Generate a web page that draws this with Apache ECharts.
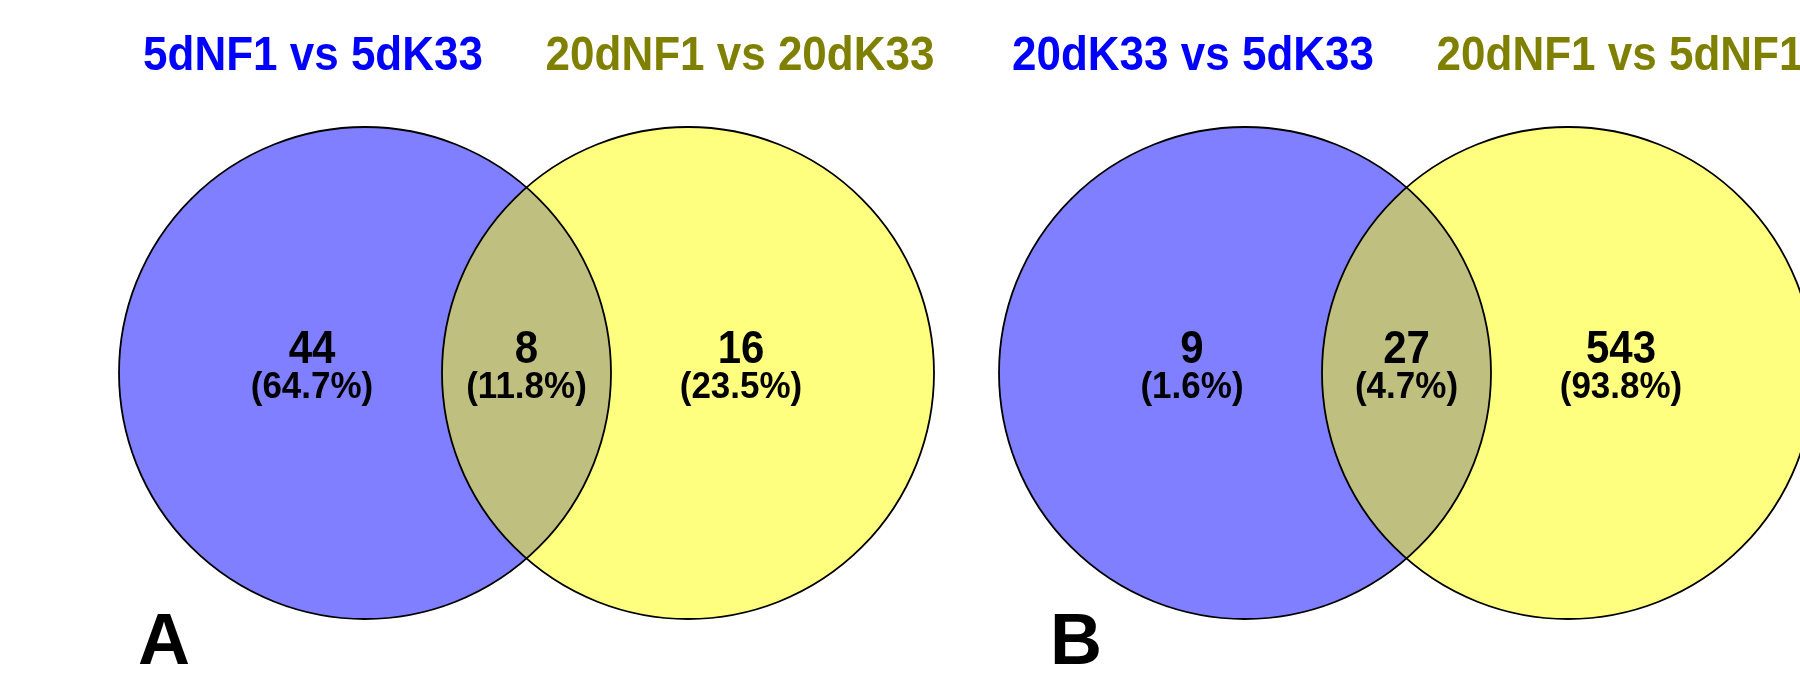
<!DOCTYPE html>
<html>
<head>
<meta charset="utf-8">
<script src="https://cdn.jsdelivr.net/npm/echarts@6/dist/echarts.min.js"></script>
<style>
  html, body { margin: 0; padding: 0; background: #ffffff; }
  #chart { width: 1800px; height: 677px; }
</style>
</head>
<body>
<div id="chart"></div>
<script>
// Two-set Venn diagrams of differentially expressed genes
const panelLetters    = ['A', 'B'];
const leftSetNames    = ['5dNF1 vs 5dK33', '20dK33 vs 5dK33'];
const rightSetNames   = ['20dNF1 vs 20dK33', '20dNF1 vs 5dNF1'];
const leftOnlyCounts  = [44, 9];
const overlapCounts   = [8, 27];
const rightOnlyCounts = [16, 543];

// Layout (pixel-like plane, y grows downward)
const PLANE_W = 1800, PLANE_H = 677;
const panelShift = [0, 880];
const letterX = [138, 1050];
const geom = { c1: 365, c2: 688, cy: 373, r: 246, labelOffset: 53, titleOffset: 52, titleY: 57 };
const setFill = ['rgba(0,0,255,0.5)', 'rgba(255,255,0,0.5)'];
const titleColor = ['#0000ff', '#808000'];
const FONT = '"Liberation Sans", Arial, Helvetica, sans-serif';

// circle records: [cx, cy, r, setIndex]
const circles = [];
panelShift.forEach(function (dx) {
  circles.push([dx + geom.c1, geom.cy, geom.r, 0]);
  circles.push([dx + geom.c2, geom.cy, geom.r, 1]);
});

// region label records: [x, y, panel, region]
const regionCounts = [leftOnlyCounts, overlapCounts, rightOnlyCounts];
const regions = [];
panelShift.forEach(function (dx, p) {
  const mid = dx + (geom.c1 + geom.c2) / 2;
  regions.push([dx + geom.c1 - geom.labelOffset, geom.cy, p, 0]);
  regions.push([mid, geom.cy, p, 1]);
  regions.push([dx + geom.c2 + geom.labelOffset, geom.cy, p, 2]);
});

// title records: [x, y, panel, side]
const titles = [];
panelShift.forEach(function (dx, p) {
  titles.push([dx + geom.c1 - geom.titleOffset, geom.titleY, p, 0]);
  titles.push([dx + geom.c2 + geom.titleOffset, geom.titleY, p, 1]);
});

// letter records: [x, y, panel]
const letters = panelLetters.map(function (l, p) { return [letterX[p], 644, p]; });

function panelTotal(p) {
  return leftOnlyCounts[p] + overlapCounts[p] + rightOnlyCounts[p];
}

// text placed at (x, y), stretched vertically about its anchor
function tallText(x, y, text, font, fill, align, sy) {
  return {
    type: 'text', x: x, y: y, scaleY: sy,
    style: { x: 0, y: 0, text: text, fill: fill, font: font, align: align, verticalAlign: 'middle' }
  };
}

const chart = echarts.init(document.getElementById('chart'), null, { renderer: 'canvas' });

chart.setOption({
  backgroundColor: '#ffffff',
  animation: false,
  grid: { left: 0, right: 0, top: 0, bottom: 0 },
  xAxis: { type: 'value', min: 0, max: PLANE_W, show: false },
  yAxis: { type: 'value', min: 0, max: PLANE_H, inverse: true, show: false },
  series: [
    {
      // translucent set fills
      type: 'custom', clip: false, silent: true, z: 1,
      data: circles,
      renderItem: function (params, api) {
        const c = api.coord([api.value(0), api.value(1)]);
        const rr = api.size([api.value(2), 0])[0];
        return {
          type: 'circle',
          shape: { cx: c[0], cy: c[1], r: rr },
          style: { fill: setFill[api.value(3)], stroke: null }
        };
      }
    },
    {
      // set outlines drawn over both fills
      type: 'custom', clip: false, silent: true, z: 2,
      data: circles,
      renderItem: function (params, api) {
        const c = api.coord([api.value(0), api.value(1)]);
        const rr = api.size([api.value(2), 0])[0];
        return {
          type: 'circle',
          shape: { cx: c[0], cy: c[1], r: rr },
          style: { fill: null, stroke: '#000000', lineWidth: 1.8 }
        };
      }
    },
    {
      // counts and percentages in each region
      type: 'custom', clip: false, silent: true, z: 3,
      data: regions,
      renderItem: function (params, api) {
        const c = api.coord([api.value(0), api.value(1)]);
        const p = api.value(2), k = api.value(3);
        const n = regionCounts[k][p];
        const pct = (n / panelTotal(p) * 100).toFixed(1) + '%';
        return {
          type: 'group',
          children: [
            tallText(c[0], c[1] - 23, String(n), 'bold 42px ' + FONT, '#000', 'center', 1.1),
            tallText(c[0], c[1] + 15, '(' + pct + ')', 'bold 35px ' + FONT, '#000', 'center', 1.08)
          ]
        };
      }
    },
    {
      // set names above the circles
      type: 'custom', clip: false, silent: true, z: 3,
      data: titles,
      renderItem: function (params, api) {
        const c = api.coord([api.value(0), api.value(1)]);
        const p = api.value(2), s = api.value(3);
        const name = s === 0 ? leftSetNames[p] : rightSetNames[p];
        return tallText(c[0], c[1], name, 'bold 44px ' + FONT, titleColor[s], 'center', 1.1);
      }
    },
    {
      // panel letters
      type: 'custom', clip: false, silent: true, z: 3,
      data: letters,
      renderItem: function (params, api) {
        const c = api.coord([api.value(0), api.value(1)]);
        return tallText(c[0], c[1], panelLetters[api.value(2)], 'bold 72px ' + FONT, '#000', 'left', 1.0);
      }
    }
  ]
});
</script>
</body>
</html>
